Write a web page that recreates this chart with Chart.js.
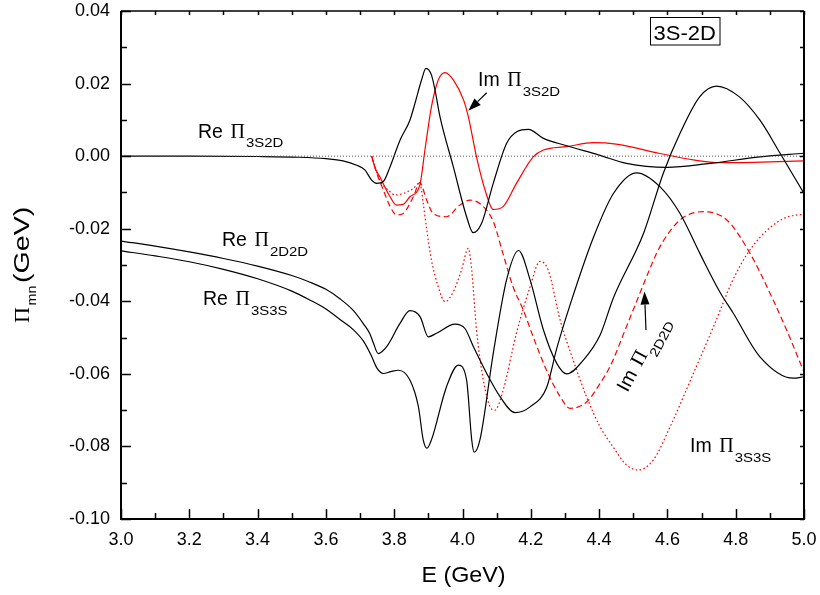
<!DOCTYPE html>
<html>
<head>
<meta charset="utf-8">
<script src="https://cdn.jsdelivr.net/npm/chart.js@4"></script>
<style>
  html, body { margin: 0; padding: 0; background: #fff; }
  canvas { display: block; }
</style>
</head>
<body>
<canvas id="pi_chart" width="820" height="595"></canvas>
<script>

// values (E in GeV, Pi in GeV)
const re3S2D_E = [3.00, 3.20, 3.40, 3.52, 3.60, 3.65, 3.69, 3.714, 3.734, 3.748, 3.768, 3.788, 3.817, 3.846, 3.861, 3.880, 3.893, 3.909, 3.920, 3.934, 3.973, 4.012, 4.031, 4.056, 4.090, 4.129, 4.160, 4.193, 4.237, 4.300, 4.400, 4.480, 4.598, 4.725, 4.871, 5.00];
const re3S2D_V = [0, 0, -0.0001, -0.0003, -0.0007, -0.0013, -0.0025, -0.0038, -0.0066, -0.0075, -0.0070, -0.0029, 0.0044, 0.0099, 0.0146, 0.0210, 0.0242, 0.0224, 0.0180, 0.0109, -0.0029, -0.0167, -0.0211, -0.0185, -0.0075, 0.0035, 0.0068, 0.0074, 0.0049, 0.0030, 0.0003, -0.0020, -0.0031, -0.0020, -0.0002, 0.0008];

const im3S2D_E = [3.734, 3.745, 3.758, 3.788, 3.807, 3.826, 3.846, 3.875, 3.890, 3.909, 3.929, 3.949, 3.973, 4.003, 4.017, 4.041, 4.066, 4.090, 4.119, 4.158, 4.207, 4.237, 4.305, 4.383, 4.450, 4.575, 4.680, 4.754, 4.850, 5.00];
const im3S2D_V = [0, -0.0035, -0.0057, -0.0112, -0.0135, -0.0133, -0.0112, -0.0080, 0.0017, 0.0136, 0.0210, 0.0230, 0.0210, 0.0155, 0.0109, -0.0002, -0.0093, -0.0147, -0.0139, -0.0075, -0.0002, 0.0017, 0.0026, 0.0037, 0.0033, 0.0008, -0.0011, -0.0018, -0.0017, -0.0013];

const re2D2D_E = [3.00, 3.10, 3.20, 3.30, 3.40, 3.50, 3.55, 3.60, 3.641, 3.680, 3.710, 3.729, 3.739, 3.753, 3.778, 3.817, 3.846, 3.876, 3.900, 3.924, 3.978, 4.007, 4.032, 4.071, 4.110, 4.154, 4.198, 4.247, 4.276, 4.315, 4.383, 4.442, 4.510, 4.578, 4.637, 4.695, 4.754, 4.793, 4.871, 4.969, 5.00];
const re2D2D_V = [-0.0234, -0.0248, -0.0264, -0.0282, -0.0303, -0.0329, -0.0346, -0.0367, -0.0393, -0.0425, -0.0462, -0.0490, -0.0515, -0.0544, -0.0525, -0.0461, -0.0426, -0.0443, -0.0498, -0.0488, -0.0463, -0.0475, -0.0525, -0.0599, -0.0663, -0.0707, -0.0691, -0.0636, -0.0530, -0.0410, -0.0225, -0.0103, -0.0046, -0.0084, -0.0158, -0.0268, -0.0375, -0.0433, -0.0553, -0.0612, -0.0608];

const re3S3S_E = [3.00, 3.10, 3.20, 3.30, 3.40, 3.50, 3.55, 3.60, 3.641, 3.680, 3.710, 3.734, 3.750, 3.768, 3.790, 3.812, 3.846, 3.871, 3.885, 3.896, 3.909, 3.953, 3.988, 4.012, 4.027, 4.034, 4.051, 4.090, 4.129, 4.164, 4.198, 4.237, 4.276, 4.305, 4.354, 4.403, 4.442, 4.530, 4.588, 4.637, 4.695, 4.744, 4.810, 4.871, 4.930, 5.00];
const re3S3S_V = [-0.0261, -0.0275, -0.0291, -0.0312, -0.0338, -0.0372, -0.0395, -0.0421, -0.0450, -0.0478, -0.0510, -0.0552, -0.0585, -0.0599, -0.0594, -0.0590, -0.0617, -0.0691, -0.0782, -0.0805, -0.0782, -0.0636, -0.0576, -0.0617, -0.0782, -0.0816, -0.0782, -0.0544, -0.0341, -0.0260, -0.0341, -0.0479, -0.0571, -0.0600, -0.0562, -0.0493, -0.0390, -0.0213, -0.0047, 0.0063, 0.0164, 0.0193, 0.0164, 0.0099, 0.0008, -0.0103];

const im2D2D_E = [3.734, 3.750, 3.768, 3.788, 3.807, 3.826, 3.856, 3.875, 3.895, 3.914, 3.953, 3.992, 4.022, 4.061, 4.090, 4.119, 4.148, 4.178, 4.207, 4.246, 4.286, 4.315, 4.364, 4.403, 4.432, 4.480, 4.510, 4.540, 4.578, 4.637, 4.705, 4.774, 4.842, 4.910, 4.949, 5.00];
const im2D2D_V = [0, -0.0050, -0.0093, -0.0139, -0.0162, -0.0158, -0.0112, -0.0073, -0.0121, -0.0158, -0.0167, -0.0135, -0.0121, -0.0139, -0.0180, -0.0270, -0.0360, -0.0424, -0.0498, -0.0590, -0.0663, -0.0695, -0.0677, -0.0626, -0.0580, -0.0470, -0.0400, -0.0330, -0.0250, -0.0176, -0.0153, -0.0176, -0.0268, -0.0397, -0.0479, -0.0595];

const im3S3S_E = [3.734, 3.758, 3.788, 3.802, 3.826, 3.856, 3.875, 3.885, 3.895, 3.909, 3.929, 3.949, 3.973, 3.997, 4.017, 4.027, 4.041, 4.061, 4.081, 4.095, 4.119, 4.158, 4.198, 4.227, 4.251, 4.286, 4.324, 4.364, 4.403, 4.440, 4.480, 4.515, 4.559, 4.608, 4.676, 4.735, 4.790, 4.830, 4.870, 4.910, 4.950, 5.00];
const im3S3S_V = [0, -0.0066, -0.0098, -0.0107, -0.0103, -0.0089, -0.0073, -0.0130, -0.0200, -0.0286, -0.0360, -0.0401, -0.0374, -0.0314, -0.0254, -0.0314, -0.0479, -0.0617, -0.0691, -0.0700, -0.0645, -0.0488, -0.0360, -0.0290, -0.0314, -0.0452, -0.0562, -0.0665, -0.0746, -0.0800, -0.0851, -0.0865, -0.0837, -0.0746, -0.0599, -0.0470, -0.0345, -0.0275, -0.0225, -0.0190, -0.0168, -0.0160];

const zero_E = [3.0, 5.0];
const zero_V = [0, 0];

const x_range = [3.0, 5.0];
const y_range = [-0.10, 0.04];

function pts(es, vs) {
    return es.map((e, i) => ({x: e, y: vs[i]}));
}

function line_ds(label, es, vs, colour, dash) {
    return {
        label: label,
        data: pts(es, vs),
        borderColor: colour,
        borderWidth: 1.2,
        borderDash: dash,
        pointRadius: 0,
        fill: false,
        cubicInterpolationMode: 'monotone'
    };
}

// text with optional horizontal stretch
function txt(ctx, s, x, y, font, sx, align) {
    ctx.save();
    ctx.translate(x, y);
    ctx.scale(sx || 1, 1);
    ctx.font = font;
    ctx.textAlign = align || 'left';
    ctx.textBaseline = 'alphabetic';
    ctx.fillText(s, 0, 0);
    var w = ctx.measureText(s).width * (sx || 1);
    ctx.restore();
    return w;
}

function pi_label(ctx, x, y, pre, sub) {
    var w = txt(ctx, pre, x, y, '19.5px "Liberation Sans"');
    var px = x + w + 7.5;
    txt(ctx, '\u03A0', px, y, '20px "Liberation Serif"');
    txt(ctx, sub, px + 15.5, y + 9.5, '13px "Liberation Sans"', 1.15);
}

function arrow(ctx, x1, y1, x2, y2) {
    var ang = Math.atan2(y2 - y1, x2 - x1);
    var len = 13, hw = 4.5;
    var bx = x2 - len * Math.cos(ang), by = y2 - len * Math.sin(ang);
    ctx.beginPath();
    ctx.moveTo(x1, y1);
    ctx.lineTo(bx, by);
    ctx.lineWidth = 1.2;
    ctx.stroke();
    ctx.beginPath();
    ctx.moveTo(x2, y2);
    ctx.lineTo(bx + hw * Math.sin(ang), by - hw * Math.cos(ang));
    ctx.lineTo(bx - hw * Math.sin(ang), by + hw * Math.cos(ang));
    ctx.closePath();
    ctx.fill();
}

const overlay = {
    id: 'overlay',
    afterDraw(chart) {
        const ctx = chart.ctx;
        const a = chart.chartArea;
        const xs = chart.scales.x, ys = chart.scales.y;
        ctx.save();
        ctx.strokeStyle = '#000';
        ctx.fillStyle = '#000';

        // inward ticks
        ctx.lineWidth = 1.5;
        const xt = xs.ticks.map(t => t.value);
        const yt = ys.ticks.map(t => t.value);
        ctx.beginPath();
        xt.forEach((v, i) => {
            const p = Math.round(xs.getPixelForValue(v)) + 0.5;
            ctx.moveTo(p, a.bottom); ctx.lineTo(p, a.bottom - 10);
            ctx.moveTo(p, a.top); ctx.lineTo(p, a.top + 4);
            if (i < xt.length - 1) {
                const m = Math.round(xs.getPixelForValue((v + xt[i + 1]) / 2)) + 0.5;
                ctx.moveTo(m, a.bottom); ctx.lineTo(m, a.bottom - 6);
                ctx.moveTo(m, a.top); ctx.lineTo(m, a.top + 4);
            }
        });
        yt.forEach((v, i) => {
            const p = Math.round(ys.getPixelForValue(v)) + 0.5;
            ctx.moveTo(a.left, p); ctx.lineTo(a.left + 10, p);
            ctx.moveTo(a.right, p); ctx.lineTo(a.right - 4, p);
            if (i < yt.length - 1) {
                const m = Math.round(ys.getPixelForValue((v + yt[i + 1]) / 2)) + 0.5;
                ctx.moveTo(a.left, m); ctx.lineTo(a.left + 6, m);
                ctx.moveTo(a.right, m); ctx.lineTo(a.right - 4, m);
            }
        });
        ctx.stroke();

        // frame
        ctx.lineWidth = 2;
        ctx.beginPath();
        ctx.moveTo(a.left, a.top); ctx.lineTo(a.left, a.bottom);
        ctx.lineTo(a.right, a.bottom); ctx.lineTo(a.right, a.top);
        ctx.stroke();
        ctx.lineWidth = 1.3;
        ctx.beginPath();
        ctx.moveTo(a.left, a.top); ctx.lineTo(a.right, a.top);
        ctx.stroke();

        // curve labels, anchored in data coordinates
        const X = v => xs.getPixelForValue(v), Y = v => ys.getPixelForValue(v);
        pi_label(ctx, X(3.2255), Y(0.00513), 'Re', '3S2D');
        pi_label(ctx, X(3.2958), Y(-0.02478), 'Re', '2D2D');
        pi_label(ctx, X(3.2401), Y(-0.04103), 'Re', '3S3S');
        pi_label(ctx, X(4.0454), Y(0.01932), 'Im', '3S2D');
        pi_label(ctx, X(4.6662), Y(-0.08155), 'Im', '3S3S');
        ctx.save();
        ctx.translate(X(4.4830), Y(-0.06529));
        ctx.rotate(-62 * Math.PI / 180);
        pi_label(ctx, 0, 0, 'Im', '2D2D');
        ctx.restore();

        arrow(ctx, X(4.0709), Y(0.01747), X(4.0170), Y(0.01251));
        arrow(ctx, X(4.5373), Y(-0.04792), X(4.5329), Y(-0.03731));

        // boxed tag
        ctx.lineWidth = 1;
        ctx.strokeRect(650.5, 17.5, 69.5, 27.5);
        txt(ctx, '3S-2D', 653.5, 39.5, '20px "Liberation Sans"', 1.1);

        // axis titles
        txt(ctx, 'E (GeV)', (a.left + a.right) / 2 + 1, 581.5, '22px "Liberation Sans"', 1.06, 'center');
        ctx.save();
        ctx.translate(29, 323);
        ctx.rotate(-Math.PI / 2);
        txt(ctx, '\u03A0', 0, 0, '22px "Liberation Serif"');
        txt(ctx, 'mn', 17.5, 6.5, '13px "Liberation Sans"', 1.1);
        txt(ctx, '(GeV)', 40, 0, '22px "Liberation Sans"', 1.3);
        ctx.restore();

        ctx.restore();
    }
};

// keep the plot box exactly where the layout padding puts it
function no_overflow(s) {
    s.paddingTop = 0;
    s.paddingBottom = 0;
    s.paddingLeft = 0;
    s.paddingRight = 0;
}

function init_pi_chart() {
    const elem = document.getElementById('pi_chart').getContext('2d');
    Chart.defaults.font.family = '"Liberation Sans", Arial, sans-serif';
    Chart.defaults.color = '#000';

    const datasets = [
        line_ds('zero', zero_E, zero_V, '#555555', [1, 2]),
        line_ds('Re 3S2D', re3S2D_E, re3S2D_V, '#000000', []),
        line_ds('Re 2D2D', re2D2D_E, re2D2D_V, '#000000', []),
        line_ds('Re 3S3S', re3S3S_E, re3S3S_V, '#000000', []),
        line_ds('Im 3S2D', im3S2D_E, im3S2D_V, '#ff0000', []),
        line_ds('Im 2D2D', im2D2D_E, im2D2D_V, '#ff0000', [6, 3.5]),
        line_ds('Im 3S3S', im3S3S_E, im3S3S_V, '#ff0000', [1.6, 2.4])
    ];
    datasets[0].borderWidth = 1;

    return new Chart(elem, {
        type: 'line',
        data: { datasets: datasets },
        options: {
            responsive: false,
            animation: false,
            layout: { padding: { left: 0, top: 11, right: 16, bottom: 0 } },
            plugins: {
                legend: { display: false },
                tooltip: { enabled: false }
            },
            scales: {
                x: {
                    type: 'linear',
                    min: x_range[0],
                    max: x_range[1],
                    grid: { display: false, drawTicks: false },
                    border: { display: false },
                    ticks: {
                        stepSize: 0.2,
                        padding: 10,
                        font: { size: 18 },
                        color: '#000',
                        maxRotation: 0,
                        callback: v => Number(v).toFixed(1)
                    },
                    afterFit: s => { s.height = 76; no_overflow(s); }
                },
                y: {
                    type: 'linear',
                    min: y_range[0],
                    max: y_range[1],
                    grid: { display: false, drawTicks: false },
                    border: { display: false },
                    ticks: {
                        stepSize: 0.02,
                        padding: 11,
                        font: { size: 18 },
                        color: '#000',
                        callback: v => Number(v).toFixed(2)
                    },
                    afterFit: s => { s.width = 121; no_overflow(s); }
                }
            }
        },
        plugins: [overlay]
    });
}

init_pi_chart();
</script>
</body>
</html>
